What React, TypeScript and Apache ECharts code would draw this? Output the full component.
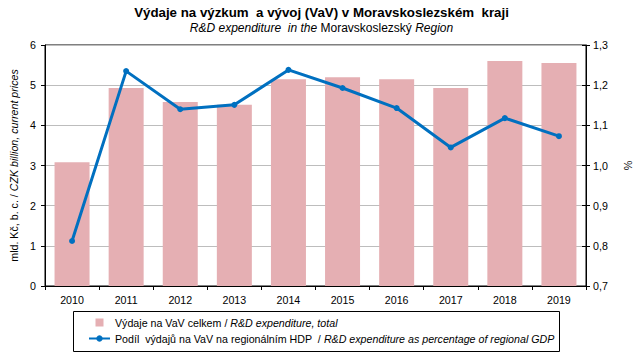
import React, { useEffect, useRef } from "react";
import * as echarts from "echarts";

const years = ["2010", "2011", "2012", "2013", "2014", "2015", "2016", "2017", "2018", "2019"];
const expenditure = [3.08, 4.93, 4.58, 4.51, 5.15, 5.2, 5.15, 4.93, 5.6, 5.55];
const gdpShare = [0.812, 1.235, 1.14, 1.151, 1.238, 1.193, 1.143, 1.045, 1.118, 1.073];
const leftTicks = { min: 0, max: 6, interval: 1 };
const rightTicks = { min: 0.7, max: 1.3, interval: 0.1 };

const barName = "Výdaje na VaV celkem";
const lineName = "Podíl výdajů na VaV na regionálním HDP";

const FONT = "Liberation Sans, Arial, sans-serif";
const FS = 10.67;

export default function App() {
  const ref = useRef<HTMLDivElement>(null);
  useEffect(() => {
    document.body.style.margin = "0";
    if (!ref.current) return;
    const chart = echarts.init(ref.current, undefined, { renderer: "svg" });
    const fmtRight = (v: number) => v.toFixed(1).replace(".", ",");
    chart.setOption({
      animation: false,
      textStyle: { fontFamily: FONT },
      title: {
        text: "Výdaje na výzkum  a vývoj (VaV) v Moravskoslezském  kraji",
        subtext: "{i|R&D expenditure  in the} {n|Moravskoslezský} {i|Region}",
        left: "center",
        top: 6,
        itemGap: 3,
        padding: 0,
        textStyle: { fontFamily: FONT, fontSize: 13.3, fontWeight: "bold", color: "#000" },
        subtextStyle: {
          fontFamily: FONT,
          fontSize: 12,
          color: "#000",
          rich: {
            i: { fontFamily: FONT, fontSize: 12, fontStyle: "italic", color: "#000" },
            n: { fontFamily: FONT, fontSize: 12, color: "#000" },
          },
        },
      },
      grid: {
        left: 43,
        right: 57,
        top: 45,
        bottom: 72,
        show: true,
        borderColor: "#000",
        borderWidth: 1,
        backgroundColor: "transparent",
      },
      xAxis: {
        type: "category",
        data: years,
        axisLine: { lineStyle: { color: "#000", width: 1 } },
        axisTick: { show: true, length: 4, lineStyle: { color: "#000" } },
        axisLabel: { color: "#000", fontSize: FS, fontFamily: FONT, margin: 8 },
      },
      yAxis: [
        {
          type: "value",
          position: "left",
          ...leftTicks,
          name: "{n|mld. Kč, b. c. / }{i|CZK billion, current prices}",
          nameLocation: "middle",
          nameRotate: 90,
          nameGap: 26,
          nameTextStyle: {
            fontFamily: FONT,
            fontSize: FS,
            color: "#000",
            rich: {
              n: { fontFamily: FONT, fontSize: FS, color: "#000" },
              i: { fontFamily: FONT, fontSize: FS, fontStyle: "italic", color: "#000" },
            },
          },
          axisLine: { show: true, lineStyle: { color: "#000" } },
          axisTick: { show: true, length: 4, lineStyle: { color: "#000" } },
          axisLabel: { color: "#000", fontSize: FS, fontFamily: FONT, margin: 9 },
          splitLine: { show: true, lineStyle: { color: "#bdbdbd", width: 1 } },
        },
        {
          type: "value",
          position: "right",
          ...rightTicks,
          name: "%",
          nameLocation: "middle",
          nameRotate: -90,
          nameGap: 36,
          nameTextStyle: { fontFamily: FONT, fontSize: FS, color: "#000" },
          axisLine: { show: true, lineStyle: { color: "#000" } },
          axisTick: { show: true, length: 4, lineStyle: { color: "#000" } },
          axisLabel: { color: "#000", fontSize: FS, fontFamily: FONT, margin: 7, formatter: fmtRight },
          splitLine: { show: false },
        },
        {
          type: "value",
          position: "right",
          ...rightTicks,
          axisLine: { show: false },
          axisTick: { show: true, inside: true, length: 4, lineStyle: { color: "#000" } },
          axisLabel: { show: false },
          splitLine: { show: false },
        },
      ],
      legend: {
        orient: "vertical",
        left: 88,
        top: 317,
        padding: 0,
        itemGap: 5,
        itemWidth: 21,
        itemHeight: 8,
        data: [
          { name: barName, icon: "path://M0,0H10V10H0Z" },
          { name: lineName },
        ],
        formatter: (name: string) =>
          name === barName
            ? "{n|Výdaje na VaV celkem / }{i|R&D expenditure, total}"
            : "{n|Podíl  výdajů na VaV na regionálním HDP  / }{i|R&D expenditure as percentage of regional GDP}",
        textStyle: {
          fontFamily: FONT,
          fontSize: FS,
          color: "#000",
          rich: {
            n: { fontFamily: FONT, fontSize: FS, color: "#000" },
            i: { fontFamily: FONT, fontSize: FS, fontStyle: "italic", color: "#000" },
          },
        },
      },
      graphic: [
        {
          type: "rect",
          shape: { x: 73.5, y: 311.5, width: 486, height: 40 },
          style: { fill: "none", stroke: "#000", lineWidth: 1 },
          silent: true,
        },
      ],
      series: [
        {
          name: barName,
          type: "bar",
          yAxisIndex: 0,
          data: expenditure,
          barWidth: 35,
          itemStyle: { color: "#E5AFB3" },
        },
        {
          name: lineName,
          type: "line",
          yAxisIndex: 1,
          data: gdpShare,
          symbol: "circle",
          symbolSize: 6,
          lineStyle: { color: "#0070C0", width: 3 },
          itemStyle: { color: "#0070C0" },
        },
      ],
    });
    return () => chart.dispose();
  }, []);
  return <div ref={ref} style={{ width: 643, height: 358 }} />;
}
